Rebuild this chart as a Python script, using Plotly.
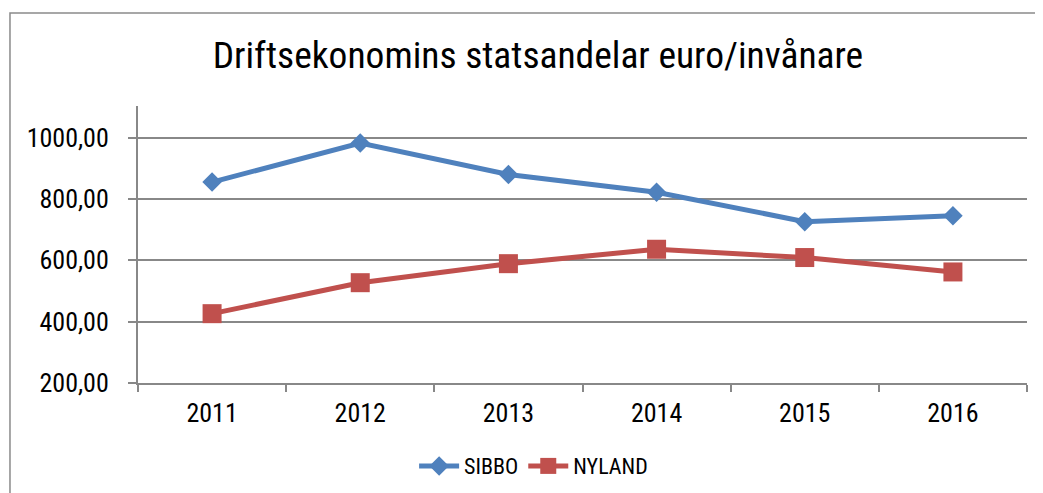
import plotly.graph_objects as go

years = ["2011", "2012", "2013", "2014", "2015", "2016"]
sibbo = [855, 982, 880, 822, 726, 745]
nyland = [426, 527, 589, 636, 609, 562]
y_ticks = [200, 400, 600, 800, 1000]
y_tick_labels = ["200,00", "400,00", "600,00", "800,00", "1000,00"]

FONT = "Liberation Sans Narrow, Roboto Condensed, Liberation Sans, sans-serif"
GRID = "#888888"

fig = go.Figure()
fig.add_trace(go.Scatter(
    x=years, y=sibbo, name="SIBBO", mode="lines+markers",
    line=dict(color="#4F81BD", width=5),
    marker=dict(symbol="diamond", size=15, color="#4F81BD"),
))
fig.add_trace(go.Scatter(
    x=years, y=nyland, name="NYLAND", mode="lines+markers",
    line=dict(color="#C0504D", width=5),
    marker=dict(symbol="square", size=19, color="#C0504D"),
))

fig.update_layout(
    width=1035, height=485,
    margin=dict(l=130, r=16, t=98, b=110, autoexpand=False),
    paper_bgcolor="white", plot_bgcolor="white",
    font=dict(family=FONT, size=26, color="black"),
    title=dict(text="Driftsekonomins statsandelar euro/invånare",
               x=0.512, xanchor="center", y=0.903, yanchor="middle",
               font=dict(family=FONT, size=37.5, color="black")),
    showlegend=True,
    legend=dict(orientation="h", x=0.445, xanchor="center", y=-0.3, yanchor="middle",
                font=dict(family=FONT, size=22), itemwidth=40, tracegroupgap=0),
    shapes=[dict(type="rect", xref="paper", yref="paper",
                 x0=-0.144, x1=1.1, y0=-0.6, y1=1.336,
                 line=dict(color="#8a8a8a", width=1.5), layer="below")],
)
fig.update_xaxes(
    type="category", range=[-0.5, 5.5], tickson="boundaries",
    showgrid=False, showline=True, linecolor=GRID, linewidth=2,
    ticks="outside", ticklen=7, tickcolor=GRID, tickwidth=2,
    tickfont=dict(family=FONT, size=26), ticklabelstandoff=6,
)
fig.update_yaxes(
    range=[200, 1103], tickvals=y_ticks, ticktext=y_tick_labels,
    showgrid=True, gridcolor=GRID, gridwidth=1.5,
    showline=True, linecolor=GRID, linewidth=2,
    ticks="outside", ticklen=8, tickcolor=GRID, tickwidth=2,
    zeroline=False, tickfont=dict(family=FONT, size=26), ticklabelstandoff=14,
)
fig.write_html("out.html")
